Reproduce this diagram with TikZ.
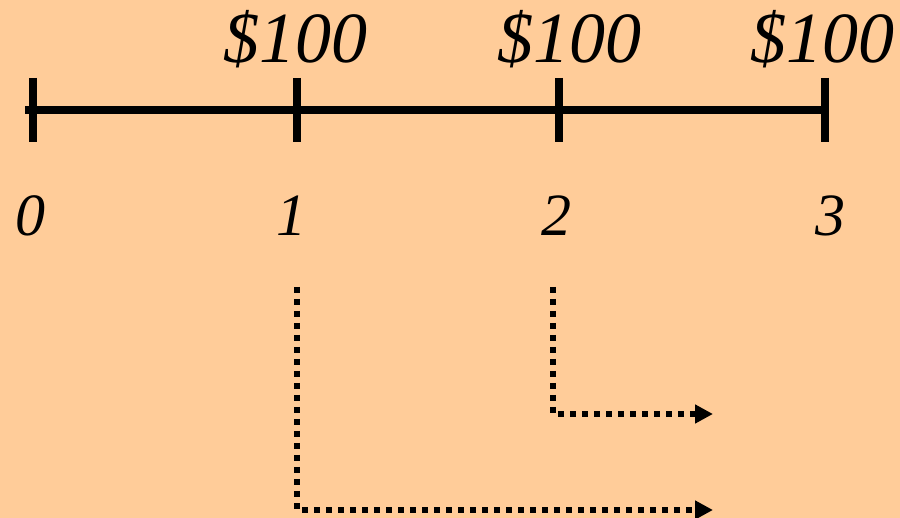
\documentclass[tikz,border=0pt]{standalone}
\usepackage{fontspec}
\setmainfont{Liberation Serif}
\usetikzlibrary{arrows.meta}
\definecolor{peach}{RGB}{255,204,153}
\begin{document}
\begin{tikzpicture}[x=1pt,y=-1pt,
  axis/.style={line width=8pt},
  tickmark/.style={line width=8pt},
  flow/.style={line width=6pt,dash pattern=on 6pt off 6pt,-{Triangle[length=18pt,width=18pt]}},
  amount/.style={font=\fontsize{72}{80}\selectfont\itshape,anchor=base,inner sep=0pt},
  period/.style={font=\fontsize{60}{66}\selectfont\itshape,anchor=base,inner sep=0pt}]
\fill[peach] (0,0) rectangle (900,518);
\useasboundingbox (0,0) rectangle (900,518);
% axis
\coordinate (L) at (25,110);
\coordinate (R) at (829,110);
\draw[axis] (L) -- (R);
\foreach \i/\x in {0/33,1/297,2/559,3/825}{
  \coordinate (top\i) at (\x,78);
  \coordinate (bot\i) at (\x,142);
  \draw[tickmark] (top\i) -- (bot\i);
}
% amounts
\node[amount] (m1) at (295,63) {\$100};
\node[amount] (m2) at (569,63) {\$100};
\node[amount] (m3) at (822,63) {\$100};
% periods
\node[period] (p0) at (31,236) {0};
\node[period] (p1) at (291,236) {1};
\node[period] (p2) at (556,236) {2};
\node[period] (p3) at (830,236) {3};
% flows
\coordinate (s1) at (297,287);
\coordinate (e1) at (713,510);
\coordinate (s2) at (553,287);
\coordinate (e2) at (713,414);
\draw[flow] (s1) |- (e1);
\draw[flow] (s2) |- (e2);
\end{tikzpicture}
\end{document}
